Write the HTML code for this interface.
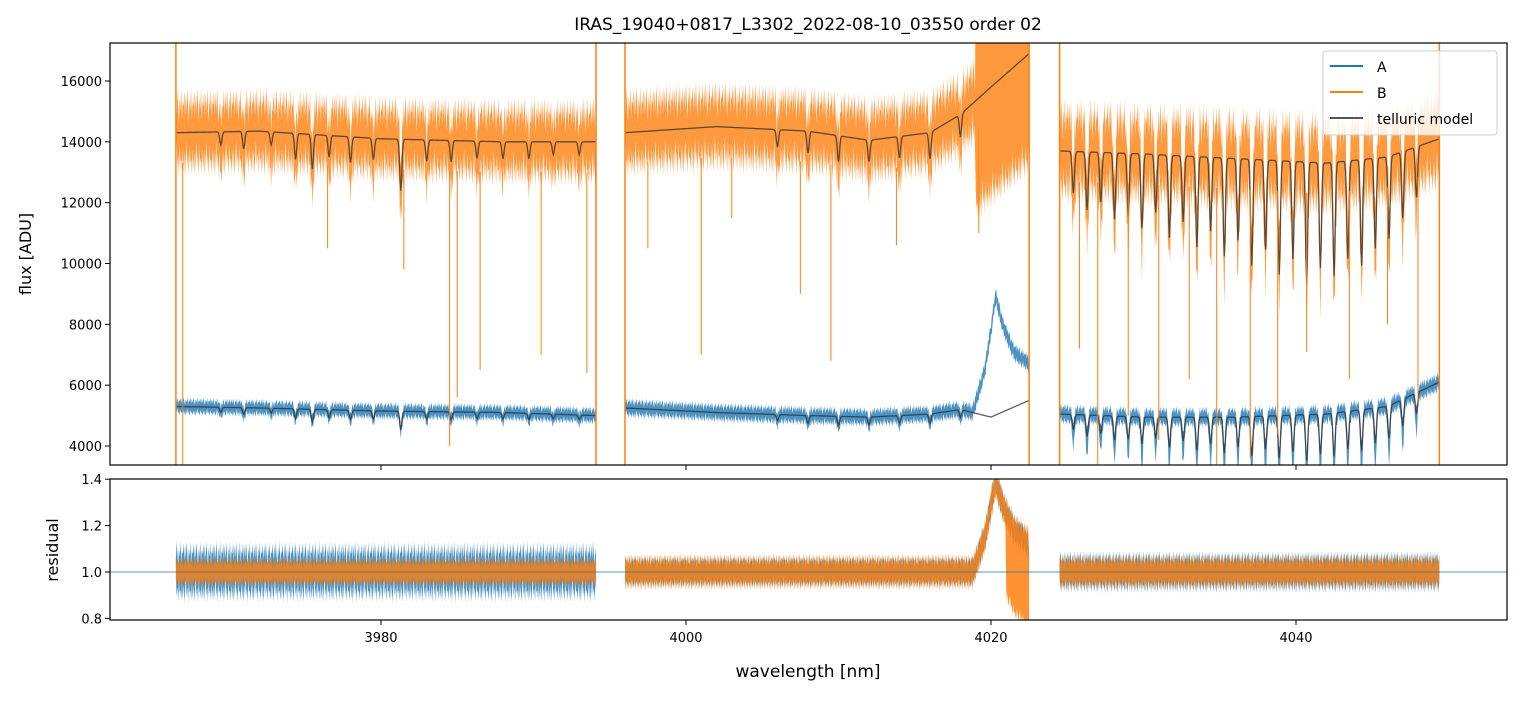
<!DOCTYPE html>
<html><head><meta charset="utf-8"><style>
body{margin:0;background:#fff;font-family:"Liberation Sans","DejaVu Sans",sans-serif}
svg text{font-family:"DejaVu Sans","Liberation Sans",sans-serif}
</style></head><body>
<svg id="c" width="1520" height="696" xmlns="http://www.w3.org/2000/svg">
<text x="808" y="30" font-size="17" text-anchor="middle">IRAS_19040+0817_L3302_2022-08-10_03550  order 02</text>
<defs><clipPath id="ct"><rect x="110" y="43" width="1397" height="422"/></clipPath><clipPath id="cr"><rect x="110" y="479" width="1397" height="141"/></clipPath></defs>
<g id="top" clip-path="url(#ct)"></g>
<g id="res" clip-path="url(#cr)"></g>
<rect x="110" y="43" width="1397" height="422" fill="none" stroke="#000" stroke-width="1.2"/>
<rect x="110" y="479" width="1397" height="141" fill="none" stroke="#000" stroke-width="1.2"/>
<g id="axes" font-size="13"></g>
<text x="31" y="254" font-size="16" text-anchor="middle" transform="rotate(-90 31 254)">flux [ADU]</text>
<text x="58" y="550" font-size="16" text-anchor="middle" transform="rotate(-90 58 550)">residual</text>
<text x="808" y="677" font-size="17" text-anchor="middle">wavelength [nm]</text>
<g>
<rect x="1323" y="51" width="174" height="84" rx="3" fill="#fff" fill-opacity="0.8" stroke="#ccc"/>
<line x1="1330" y1="66" x2="1363" y2="66" stroke="#1f77b4" stroke-width="2"/><text x="1377" y="72" font-size="14">A</text>
<line x1="1330" y1="92" x2="1363" y2="92" stroke="#ff7f0e" stroke-width="2"/><text x="1377" y="98" font-size="14">B</text>
<line x1="1330" y1="118" x2="1363" y2="118" stroke="#555" stroke-width="2"/><text x="1377" y="124" font-size="14">telluric model</text>
</g>
</svg>
<script>
const xTicks=[3980,4000,4020,4040];
const yTicks=[4000,6000,8000,10000,12000,14000,16000];
const rTicks=[0.8,1.0,1.2,1.4];
const segments=[[3966.55,3994.1],[3996.0,4022.5],[4024.5,4049.4]];
const knotW=[3966.5,3972,3980,3988,3994.1,3996,4002,4008,4012,4016,4018,4020,4022.5,4024.5,4030,4036,4042,4046,4049.4];
const knotB=[14300,14350,14100,14000,14000,14300,14500,14350,14050,14300,14900,15800,16900,13700,13600,13450,13300,13500,14100];
const knotA=[5300,5250,5150,5100,5000,5250,5100,5000,4950,5050,5200,4950,5500,5050,4950,4950,5050,5300,6100];
const dipW=[3969.5,3971,3972.8,3974.4,3975.5,3976.6,3978,3979.5,3981.3,3983,3984.6,3986.3,3988,3989.7,3991.3,3993,4006,4008,4010,4012,4014,4016,4018,
4025.4,4026.3,4027.2,4028.1,4029,4029.9,4030.8,4031.7,4032.6,4033.5,4034.4,4035.3,4036.2,4037.1,4038,4038.9,4039.8,4040.7,4041.6,4042.5,4043.4,4044.3,4045.2,4046.1,4047,4047.9];
const dipD=[0.03,0.04,0.03,0.06,0.08,0.05,0.06,0.05,0.12,0.05,0.05,0.04,0.04,0.04,0.03,0.03,0.04,0.05,0.06,0.05,0.05,0.06,0.05,
0.1,0.14,0.12,0.16,0.15,0.18,0.14,0.2,0.16,0.22,0.18,0.24,0.2,0.26,0.22,0.28,0.24,0.3,0.26,0.28,0.24,0.26,0.22,0.2,0.16,0.12];
const noiseB=[1450,1500,1750];
const noiseA=[300,330,350];
const noiseRA=[0.13,0.07,0.09];
const noiseRB=[0.07,0.08,0.08];
const bumpW=[4018.8,4019.6,4020.3,4020.8,4021.5,4022.5];
const bumpV=[0,1500,3900,2800,1800,1200];
const spikeW=[3967,3976.5,3981.5,3984.5,3985,3986.5,3990.5,3993.5,3997.5,4001,4003,4007.5,4009.5,4013.8,4019.2,4025.8,4027,4029,4031,4033,4034.8,4037,4038.8,4040.7,4043.5,4046,4048];
const spikeV=[3400,10500,9800,4000,5600,6500,7000,6400,10500,7000,11500,9000,6800,10600,11000,7200,3400,5000,4200,6200,3400,3600,4400,7100,6200,8000,5400];

const NS='http://www.w3.org/2000/svg';
const X=w=>110+(w-3962.23)*15.25;
const Y=f=>465-(f-3375)*0.030417;
const R=r=>572-(r-1.0)*232;
function interp(xs,ys,x){for(let i=0;i<xs.length-1;i++){if(x<=xs[i+1]&&x>=xs[i])return ys[i]+(ys[i+1]-ys[i])*(x-xs[i])/(xs[i+1]-xs[i]);}return x<xs[0]?ys[0]:ys[ys.length-1];}
function trans(w){let t=1;for(let i=0;i<dipW.length;i++){const d=(w-dipW[i])/0.1;t*=1-dipD[i]*Math.exp(-d*d);}return t;}
function bump(w){return (w>=bumpW[0]&&w<=bumpW[bumpW.length-1])?interp(bumpW,bumpV,w):0;}
function inB(w){return w>4019&&w<4023;}
function mk(parent,tag,attrs){const e=document.createElementNS(NS,tag);for(const k in attrs)e.setAttribute(k,attrs[k]);parent.appendChild(e);return e;}
const gTop=document.getElementById('top'),gRes=document.getElementById('res'),ax=document.getElementById('axes');
function jig(i){return [0.9,0.4,1,0.6,0.2,0.8,0.5,1,0.3,0.7,0.6,0.95,0.35][i%13];}
segments.forEach((s,si)=>{
  const ws=[];for(let w=s[0];w<=s[1]+1e-9;w+=0.05)ws.push(w);
  const mB=ws.map(w=>interp(knotW,knotB,w)*trans(w));
  const mA=ws.map(w=>interp(knotW,knotA,w)*trans(w));
  let up=ws.map((w,i)=>X(w)+','+Y(mB[i]+noiseB[si]*jig(i)+(inB(w)?3000:0)));
  let lo=ws.map((w,i)=>X(w)+','+Y(mB[i]-noiseB[si]*jig(i+3)-(inB(w)?2500:0))).reverse();
  let p=mk(gTop,'polygon',{points:up.concat(lo).join(' '),fill:'#ff7f0e','fill-opacity':0.8});
  
  
  up=ws.map((w,i)=>X(w)+','+Y(mA[i]+bump(w)+noiseA[si]*jig(i+5)));
  lo=ws.map((w,i)=>X(w)+','+Y(mA[i]+bump(w)-noiseA[si]*jig(i+2)-(si==2?mA[i]*(1-trans(w))*0.8:0))).reverse();
  p=mk(gTop,'polygon',{points:up.concat(lo).join(' '),fill:'#1f77b4','fill-opacity':0.8});
  
  
  let l=mk(gTop,'polyline',{points:ws.map((w,i)=>X(w)+','+Y(mB[i])).join(' '),fill:'none',stroke:'#333','stroke-opacity':0.8,'stroke-width':1.3});
  
  
  l=mk(gTop,'polyline',{points:ws.map((w,i)=>X(w)+','+Y(mA[i])).join(' '),fill:'none',stroke:'#333','stroke-opacity':0.8,'stroke-width':1.3});
  
  
  const rb=ws.map(w=>1+bump(w)/10000);
  up=ws.map((w,i)=>X(w)+','+R(rb[i]+noiseRA[si]*jig(i+1)));
  lo=ws.map((w,i)=>X(w)+','+R(rb[i]-noiseRA[si]*jig(i+4))).reverse();
  p=mk(gRes,'polygon',{points:up.concat(lo).join(' '),fill:'#1f77b4','fill-opacity':0.8});
  
  
  up=ws.map((w,i)=>X(w)+','+R(rb[i]+noiseRB[si]*jig(i+7)));
  lo=ws.map((w,i)=>X(w)+','+R(rb[i]-noiseRB[si]*jig(i+6)-((w>4021&&w<4023)?0.3:0))).reverse();
  p=mk(gRes,'polygon',{points:up.concat(lo).join(' '),fill:'#ff7f0e','fill-opacity':0.85});
  
  
  [s[0],s[1]].forEach(w=>{const e=mk(gTop,'line',{x1:X(w),x2:X(w),y1:43,y2:465,stroke:'#ff7f0e','stroke-width':1.5});
    
    });
});
spikeW.forEach((w,i)=>{
  const base=interp(knotW,knotB,w)-1000;
  const e=mk(gTop,'line',{x1:X(w),x2:X(w),y1:Y(base),y2:Y(spikeV[i]),stroke:'#ff7f0e','stroke-width':1});
  
  
});
let hl=mk(gRes,'line',{x1:110,x2:1507,y1:R(1),y2:R(1),stroke:'#1f77b4','stroke-width':0.8});


xTicks.forEach(t=>{
  let e=mk(ax,'line',{x1:X(t),x2:X(t),y1:465,y2:470,stroke:'#000'});
  
  
  e=mk(ax,'line',{x1:X(t),x2:X(t),y1:620,y2:625,stroke:'#000'});
  
  
  e=mk(ax,'text',{x:X(t),y:642,'text-anchor':'middle'});e.textContent=t;
  
  
});
yTicks.forEach(t=>{
  let e=mk(ax,'line',{x1:105,x2:110,y1:Y(t),y2:Y(t),stroke:'#000'});
  
  
  e=mk(ax,'text',{x:102,y:Y(t)+5,'text-anchor':'end'});e.textContent=t;
  
  
});
rTicks.forEach(t=>{
  let e=mk(ax,'line',{x1:105,x2:110,y1:R(t),y2:R(t),stroke:'#000'});
  
  
  e=mk(ax,'text',{x:102,y:R(t)+5,'text-anchor':'end'});e.textContent=t.toFixed(1);
  
  
});
</script>
</body></html>
